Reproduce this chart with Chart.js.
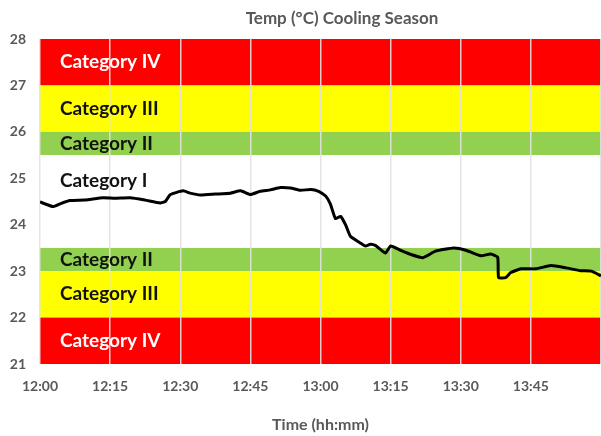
<!DOCTYPE html>
<html>
<head>
<meta charset="utf-8">
<script src="https://cdn.jsdelivr.net/npm/chart.js@4"></script>
<style>
  html, body { margin: 0; padding: 0; background: #fff; }
  #wrap { width: 601px; height: 436px; position: relative; }
</style>
</head>
<body>
<div id="wrap"><canvas id="myChart"></canvas></div>
<script>
// minutes after 12:00 and temperature readings
const minutes = [0, 2.8, 4.3, 6.4, 9.6, 13.5, 16, 19.3, 22.5, 25.7, 26.8, 27.9, 30.6, 32.1, 34.3, 37.5, 40.7, 42.9, 45, 47.1,
    49.3, 51.4, 53.6, 55.7, 57.9, 59.6, 61.1, 62.1, 63.2, 64.3, 65.4, 66.4, 68.6, 69.6, 70.7, 71.8, 73.9, 75, 77.1, 79.3,
    81.9, 84.6, 88.5, 91.1, 94.3, 96.4, 97.9, 98.1, 99.6, 100.7, 102.9, 106.1, 109.3, 112.5, 115.7, 117.9, 120];
const temps = [24.49, 24.39, 24.45, 24.52, 24.53, 24.58, 24.57, 24.58, 24.53, 24.47, 24.5, 24.65, 24.73, 24.68, 24.64, 24.66, 24.68, 24.73, 24.65, 24.72,
    24.75, 24.8, 24.79, 24.74, 24.76, 24.72, 24.62, 24.45, 24.13, 24.18, 23.99, 23.75, 23.6, 23.54, 23.58, 23.55, 23.39, 23.54, 23.45, 23.36,
    23.29, 23.43, 23.5, 23.45, 23.33, 23.37, 23.3, 22.86, 22.86, 22.97, 23.05, 23.05, 23.12, 23.07, 23.01, 23.0, 22.9];

// comfort bands
const bandNames = ['Category IV', 'Category III', 'Category II', 'Category I', 'Category II', 'Category III', 'Category IV'];
const bandLow = [27, 26, 25.5, 23.5, 23, 22, 21];
const bandHigh = [28, 27, 26, 25.5, 23.5, 23, 22];
const bandLabelAt = [27.5, 26.5, 25.75, 24.95, 23.25, 22.5, 21.5];

const xTicks = [0, 15, 30, 45, 60, 75, 90, 105, 120];
const yTicks = [21, 22, 23, 24, 25, 26, 27, 28];

const bandColors = { 'Category IV': '#ff0000', 'Category III': '#ffff00', 'Category II': '#92d050', 'Category I': '#ffffff' };
const bandText = { 'Category IV': '#ffffff', 'Category III': '#111111', 'Category II': '#111111', 'Category I': '#111111' };

const fmtTime = (m) => {
    const h = 12 + Math.floor(m / 60);
    const mm = m % 60;
    return h + ':' + (mm < 10 ? '0' : '') + mm;
};

const bandsPlugin = {
    id: 'bands',
    beforeDraw: (chart) => {
        const { ctx, chartArea, scales } = chart;
        ctx.save();
        ctx.fillStyle = '#fff';
        ctx.fillRect(0, 0, chart.width, chart.height);
        bandNames.forEach((name, i) => {
            const top = scales.y.getPixelForValue(bandHigh[i]);
            const bot = scales.y.getPixelForValue(bandLow[i]);
            ctx.fillStyle = bandColors[name];
            ctx.fillRect(chartArea.left, top, chartArea.right - chartArea.left, bot - top);
        });
        ctx.restore();
    },
    beforeDatasetsDraw: (chart) => {
        const { ctx, chartArea, scales } = chart;
        ctx.save();
        ctx.font = 'bold 19px Lato';
        ctx.textBaseline = 'middle';
        ctx.textAlign = 'left';
        bandNames.forEach((name, i) => {
            ctx.fillStyle = bandText[name];
            ctx.fillText(name, chartArea.left + 20, scales.y.getPixelForValue(bandLabelAt[i]));
        });
        ctx.restore();
    },
    afterDraw: (chart) => {
        const ctx = chart.ctx;
        ctx.save();
        ctx.font = 'bold 17px Lato';
        ctx.fillStyle = '#595959';
        ctx.textAlign = 'center';
        ctx.textBaseline = 'middle';
        ctx.fillText('Temp (\u00B0C) Cooling Season', 342, 19);
        ctx.restore();
    },
};

const data = {
    datasets: [
        {
            data: minutes.map((m, i) => ({ x: m, y: temps[i] })),
            borderColor: '#000',
            borderWidth: 3,
            pointRadius: 0,
            tension: 0.15,
            fill: false,
        },
    ],
};

const config = {
    type: 'line',
    data: data,
    options: {
        responsive: true,
        maintainAspectRatio: false,
        animation: false,
        layout: { padding: { top: 39, left: 0, right: 0, bottom: 2 } },
        scales: {
            x: {
                type: 'linear',
                min: 0,
                max: 120,
                afterBuildTicks: (scale) => {
                    scale.ticks = xTicks.map((v) => ({ value: v }));
                },
                afterFit: (scale) => {
                    scale.paddingRight = 0;
                },
                grid: {
                    color: 'rgba(225,225,225,0.9)',
                    lineWidth: 1.5,
                    drawTicks: false,
                },
                border: { display: false },
                ticks: {
                    padding: 14,
                    maxRotation: 0,
                    color: '#595959',
                    font: { family: 'Lato', size: 14, weight: 'bold' },
                    callback: (v) => (v === 120 ? '' : fmtTime(v)),
                },
                title: {
                    display: true,
                    text: 'Time (hh:mm)',
                    color: '#595959',
                    font: { family: 'Lato', size: 16, weight: 'bold' },
                    padding: { top: 6, bottom: 0 },
                },
            },
            y: {
                min: 21,
                max: 28,
                afterFit: (scale) => {
                    scale.width = 40;
                },
                afterBuildTicks: (scale) => {
                    scale.ticks = yTicks.map((v) => ({ value: v }));
                },
                grid: { display: false, drawTicks: false },
                border: { display: false },
                ticks: {
                    padding: 14,
                    color: '#595959',
                    font: { family: 'Lato', size: 14, weight: 'bold' },
                },
            },
        },
        plugins: {
            legend: { display: false },
            tooltip: { enabled: false },
            title: { display: false },
        },
    },
    plugins: [bandsPlugin],
};

const myChart = new Chart(document.getElementById('myChart'), config);
</script>
</body>
</html>
